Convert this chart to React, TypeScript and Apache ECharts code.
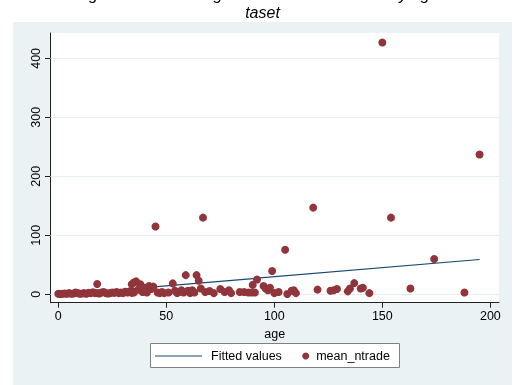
import React, { useEffect, useRef } from "react";
import * as echarts from "echarts";

const titleLines = ["Average no. of trades against the mean number by age in da", "taset"];
const ages = [
  0, 1, 2, 3, 4, 5, 6, 7, 8, 9, 10, 11, 12, 13, 14, 15, 16, 17, 18, 18, 19, 20, 21, 22, 23, 24, 25, 26, 27, 28, 29, 30,
  31, 32, 33, 34, 35, 34, 35, 36, 37, 38, 39, 40, 41, 42, 43, 44, 45, 46, 47, 48, 49, 51, 53, 54, 55, 56, 57, 58, 59,
  60, 61, 62, 63, 64, 65, 66, 67, 68, 70, 72, 75, 77, 79, 80, 84, 86, 88, 89.5, 90, 91, 92, 95, 96, 97, 98, 99, 100,
  102, 105, 106, 108, 109, 110, 118, 120, 126, 127.5, 129, 134, 135, 137, 140, 141, 144, 150, 154, 163, 174, 188, 195,
];
const meanNtrade = [
  1, 0.5, 1, 1.5, 1, 2, 1, 1.5, 3, 2, 1, 1.5, 2, 1, 2.5, 2, 3.5, 2, 17.5, 2, 1.5, 3, 4, 2, 1.5, 2, 3, 2.5, 4, 2, 3, 2,
  4.5, 3, 5, 2.5, 3, 17, 20, 22, 8, 17, 4, 11, 3, 14, 9, 13, 115, 3, 2, 4, 2, 3, 18.5, 6, 2, 4, 7, 3, 32.5,
  6, 2, 7, 3, 32.5, 23, 10, 130, 4, 5.5, 2, 9, 4, 7, 2, 4, 4, 3, 3, 16, 3, 25, 14, 10, 7, 11, 39.5, 2,
  4, 75.6, 0.5, 6, 7, 2, 147, 8, 6, 7, 9, 5, 10, 19, 10, 11, 2, 427, 130, 10, 60, 3, 237,
];
const fittedAges = [0, 195];
const fittedValues = [-1, 59];
const xTicks = [0, 50, 100, 150, 200];
const yTicks = [0, 100, 200, 300, 400];

const FONT = "Liberation Sans, Arial, Helvetica, sans-serif";

export default function App() {
  const ref = useRef<HTMLDivElement>(null);
  useEffect(() => {
    if (!ref.current) return;
    const chart = echarts.init(ref.current, undefined, { renderer: "svg" });
    const axisColor = "#222";
    chart.setOption({
      animation: false,
      title: {
        text: titleLines.join("\n"),
        left: 262.5,
        top: -15,
        textAlign: "center",
        padding: 0,
        textStyle: {
          fontStyle: "italic",
          fontWeight: "normal",
          fontSize: 16,
          lineHeight: 18,
          fontFamily: FONT,
          color: "#000",
        },
      },
      graphic: [
        { type: "rect", z: -10, shape: { x: 13, y: 22, width: 499, height: 370 }, style: { fill: "#eaf2f3" }, silent: true },
        {
          type: "rect",
          z: 1,
          shape: { x: 150.5, y: 343.5, width: 249, height: 24 },
          style: { fill: "#fff", stroke: "#808080", lineWidth: 1 },
          silent: true,
        },
      ],
      legend: [
        {
          data: [{ name: "Fitted values", icon: "rect" }],
          left: 155,
          top: 349,
          padding: 0,
          itemWidth: 47,
          itemHeight: 1.2,
          itemStyle: { color: "#1a476f" },
          textStyle: { fontSize: 12.5, fontFamily: FONT, color: "#000", lineHeight: 14, padding: [0, 0, 0, 4] },
        },
        {
          data: ["mean_ntrade"],
          left: 302.2,
          top: 349,
          padding: 0,
          itemWidth: 7,
          itemHeight: 7,
          textStyle: { fontSize: 12.5, fontFamily: FONT, color: "#000", lineHeight: 14, padding: [0, 0, 0, 2] },
        },
      ],
      grid: {
        left: 50.5,
        right: 16,
        top: 33,
        bottom: 82.3,
        show: true,
        backgroundColor: "#fff",
        borderWidth: 0,
      },
      xAxis: {
        type: "value",
        min: -3.6,
        max: 204,
        name: "age",
        nameLocation: "middle",
        nameGap: 20,
        nameTextStyle: { fontSize: 12.5, fontFamily: FONT, color: "#000" },
        axisLine: { show: true, onZero: false, lineStyle: { color: axisColor, width: 1 } },
        axisTick: { show: true, length: 5, customValues: xTicks, lineStyle: { color: axisColor } },
        axisLabel: { customValues: xTicks, margin: 7, fontSize: 12.5, fontFamily: FONT, color: "#000" },
        splitLine: { show: false },
      },
      yAxis: {
        type: "value",
        min: -14.2,
        max: 443,
        axisLine: { show: true, onZero: false, lineStyle: { color: axisColor, width: 1 } },
        axisTick: { show: true, length: 5.5, customValues: yTicks, lineStyle: { color: axisColor } },
        axisLabel: { customValues: yTicks, rotate: 90, margin: 8, fontSize: 12.5, fontFamily: FONT, color: "#000" },
        splitLine: { show: false },
      },
      series: [
        {
          type: "line",
          name: "Fitted values",
          data: fittedAges.map((a, i) => [a, fittedValues[i]]),
          symbol: "none",
          z: 2,
          lineStyle: { color: "#1a476f", width: 1.2 },
          itemStyle: { color: "#1a476f" },
          markLine: {
            z: 1,
            silent: true,
            symbol: "none",
            label: { show: false },
            lineStyle: { color: "#e6eef0", width: 1, type: "solid" },
            data: yTicks.map((v) => ({ yAxis: v })),
          },
        },
        {
          type: "scatter",
          name: "mean_ntrade",
          data: ages.map((a, i) => [a, meanNtrade[i]]),
          symbolSize: 8,
          z: 3,
          itemStyle: { color: "#90353b", opacity: 1 },
        },
      ],
    });
    return () => chart.dispose();
  }, []);
  return <div ref={ref} style={{ position: "fixed", left: 0, top: 0, width: 515, height: 385 }} />;
}
